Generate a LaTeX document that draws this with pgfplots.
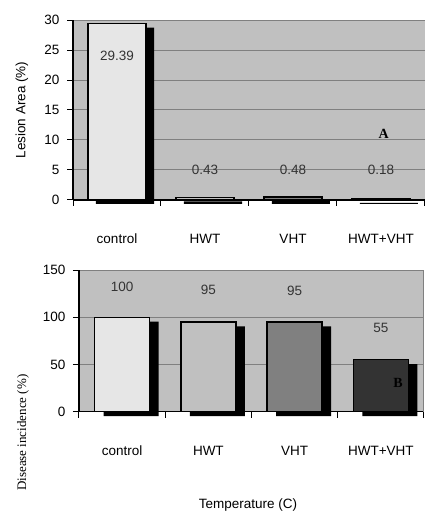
\documentclass[border=0pt]{standalone}
\usepackage{pgfplots}
\pgfplotsset{compat=1.18}
\usepackage{fontspec}
\setmainfont{Liberation Sans}
\newfontfamily\timesf{Liberation Serif}
\definecolor{bg}{HTML}{C0C0C0}
\definecolor{gridc}{HTML}{808080}
\definecolor{cctrl}{HTML}{E6E6E6}
\definecolor{chwt}{HTML}{C0C0C0}
\definecolor{cvht}{HTML}{808080}
\definecolor{cboth}{HTML}{333333}
\newcommand{\fs}{\fontsize{13.5}{15}\selectfont}
\pgfplotsset{
  mystyle/.style={
    scale only axis,
    anchor=south west,
    clip=false,
    axis background/.style={fill=bg},
    axis x line*=bottom, axis y line*=left,
    axis line style={black, line width=1.3pt},
    ymajorgrids, grid style={gridc, line width=1pt},
    xmin=-0.5, xmax=3.5,
    xtick={0,1,2,3},
    xticklabels={control,HWT,VHT,HWT+VHT},
    major x tick style={draw=none},
    minor xtick={-0.5,0.5,1.5,2.5,3.5},
    minor tick length=6pt,
    minor x tick style={black, line width=1pt},
    major y tick style={black, line width=1pt},
    major tick length=6pt,
    tick align=outside,
    xticklabel style={font=\fs, anchor=center, yshift=-33pt},
    yticklabel style={font=\fs, xshift=-4pt},
    /pgf/number format/assume math mode=true,
    ybar,
  },
}
\begin{document}
\begin{tikzpicture}
\useasboundingbox (0pt,0pt) rectangle (426pt,512pt);
% top
\begin{axis}[mystyle, at={(73pt,312pt)}, width=352pt, height=180pt,
  ymin=0, ymax=30, ytick={0,5,10,15,20,25,30},
  ylabel={Lesion Area (\%)},
  ylabel style={font=\fs, at={(axis description cs:-0.145,0.5)}, anchor=center},
  bar width=58pt]
\addplot[fill=black, draw=none, bar shift=8pt, yshift=-4pt] coordinates {(0,29.39) (1,0.43) (2,0.48) (3,0.18)};
\addplot[fill=cctrl, draw=black, line width=1.3pt, bar shift=0pt] coordinates {(0,29.39)};
\addplot[fill=chwt, draw=black, line width=1.3pt, bar shift=0pt] coordinates {(1,0.43)};
\addplot[fill=cvht, draw=black, line width=1.3pt, bar shift=0pt] coordinates {(2,0.48)};
\addplot[fill=cboth, draw=black, line width=1.3pt, bar shift=0pt] coordinates {(3,0.18)};
\node[font=\fs, color=black!80] at (axis cs:0,24) {29.39};
\node[font=\fs, color=black!80] at (axis cs:1,5) {0.43};
\node[font=\fs, color=black!80] at (axis cs:2,5) {0.48};
\node[font=\fs, color=black!80] at (axis cs:3,5) {0.18};
\node[font=\timesf\bfseries\fontsize{14}{16}\selectfont] at (axis cs:3.03,11) {A};
\end{axis}
% bottom
\begin{axis}[mystyle, at={(79pt,100.3pt)}, width=345pt, height=141.7pt,
  ymin=0, ymax=150, ytick={0,50,100,150},
  ylabel={Disease incidence (\%)},
  ylabel style={font=\timesf\fontsize{13}{15}\selectfont, at={(axis description cs:-0.162,-0.148)}, anchor=center},
  xlabel={Temperature (C)},
  xlabel style={font=\fs, at={(axis description cs:0.49,0)}, anchor=center, yshift=-93pt},
  bar width=55pt,
  after end axis/.code={\draw[gridc, line width=1pt] (rel axis cs:1,0) -- (rel axis cs:1,1);}]
\addplot[fill=black, draw=none, bar shift=9pt, yshift=-4.5pt] coordinates {(0,100) (1,95) (2,95) (3,55)};
\addplot[fill=cctrl, draw=black, line width=1.3pt, bar shift=0pt] coordinates {(0,100)};
\addplot[fill=chwt, draw=black, line width=1.3pt, bar shift=0pt] coordinates {(1,95)};
\addplot[fill=cvht, draw=black, line width=1.3pt, bar shift=0pt] coordinates {(2,95)};
\addplot[fill=cboth, draw=black, line width=1.3pt, bar shift=0pt] coordinates {(3,55)};
\node[font=\fs, color=black!80] at (axis cs:0,132) {100};
\node[font=\fs, color=black!80] at (axis cs:1,129) {95};
\node[font=\fs, color=black!80] at (axis cs:2,127.5) {95};
\node[font=\fs, color=black!80] at (axis cs:3,89) {55};
\node[font=\timesf\bfseries\fontsize{14}{16}\selectfont] at (axis cs:3.2,30) {B};
\end{axis}
\end{tikzpicture}
\end{document}
